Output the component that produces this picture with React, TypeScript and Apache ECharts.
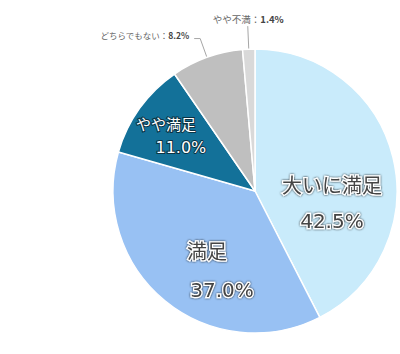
import React, { useEffect, useRef } from "react";
import * as echarts from "echarts";

const categories = ["大いに満足", "満足", "やや満足", "どちらでもない", "やや不満"];
const values = [42.5, 37.0, 11.0, 8.2, 1.4];
const colors = ["#c9ebfb", "#98c1f3", "#137199", "#bfbfbf", "#d9d9d9"];

const FONT = "'Noto Sans CJK JP', 'Noto Sans', sans-serif";
const NUM_FONT = "'DejaVu Sans', 'Noto Sans', sans-serif";

const darkOnLight = {
  color: "#444444",
  textBorderColor: "#ffffff",
  textBorderWidth: 2.5,
  textShadowColor: "rgba(0,0,0,0.9)",
  textShadowBlur: 2,
};

const lightOnDark = {
  color: "#ffffff",
  textBorderColor: "#0b3344",
  textBorderWidth: 2,
};

function insideLabel(size: number, vsize: number, lh: number, offset: number[], namePad: number, style: any) {
  return {
    show: true,
    position: "inside",
    offset,
    formatter: (p: any) => `{n|${p.name}}\n{v|${Number(p.value).toFixed(1)}%}`,
    rich: {
      n: { ...style, fontFamily: FONT, fontSize: size, lineHeight: lh, padding: [0, namePad, 0, 0] },
      v: { ...style, fontFamily: NUM_FONT, fontSize: vsize, lineHeight: lh },
    },
  };
}

function outsideLabel(size: number, dist: number, padBottom: number) {
  return {
    show: true,
    position: "outside",
    distanceToLabelLine: dist,
    padding: [0, 0, padBottom, 0],
    formatter: (p: any) => `{n|${p.name}：}{v|${Number(p.value).toFixed(1)}%}`,
    rich: {
      n: { fontFamily: FONT, fontSize: size, color: "#666666" },
      v: { fontFamily: FONT, fontSize: size, color: "#444444", fontWeight: "bold" },
    },
  };
}

const labelConfigs = [
  insideLabel(20, 20, 37, [5, 29], 0, darkOnLight),
  insideLabel(20, 20, 40, [14, 22], 30, darkOnLight),
  insideLabel(15, 16, 24, [-14, -12], 30, lightOnDark),
  outsideLabel(8.5, 5, 8),
  outsideLabel(9.5, -36, 14),
];

const lineConfigs = [
  undefined,
  undefined,
  undefined,
  { show: true, length: 20, length2: 6, lineStyle: { color: "#a6a6a6", width: 1 } },
  { show: true, length: 23, length2: 0, lineStyle: { color: "#a6a6a6", width: 1 } },
];

export default function App() {
  const ref = useRef<HTMLDivElement>(null);
  useEffect(() => {
    if (!ref.current) return;
    const chart = echarts.init(ref.current, undefined, { renderer: "svg" });
    const data = categories.map((name, i) => ({
      name,
      value: values[i],
      itemStyle: { color: colors[i] },
      label: labelConfigs[i],
      labelLine: lineConfigs[i] || { show: false },
    }));
    chart.setOption({
      animation: false,
      backgroundColor: "#ffffff",
      series: [
        {
          type: "pie",
          center: [255, 191],
          radius: 142,
          startAngle: 90,
          clockwise: true,
          avoidLabelOverlap: false,
          itemStyle: { borderColor: "#ffffff", borderWidth: 1.5 },
          emphasis: { disabled: true },
          data,
        },
      ],
    });
    return () => chart.dispose();
  }, []);
  return (
    <div
      ref={ref}
      style={{ position: "absolute", left: 0, top: 0, width: 400, height: 354 }}
    />
  );
}
